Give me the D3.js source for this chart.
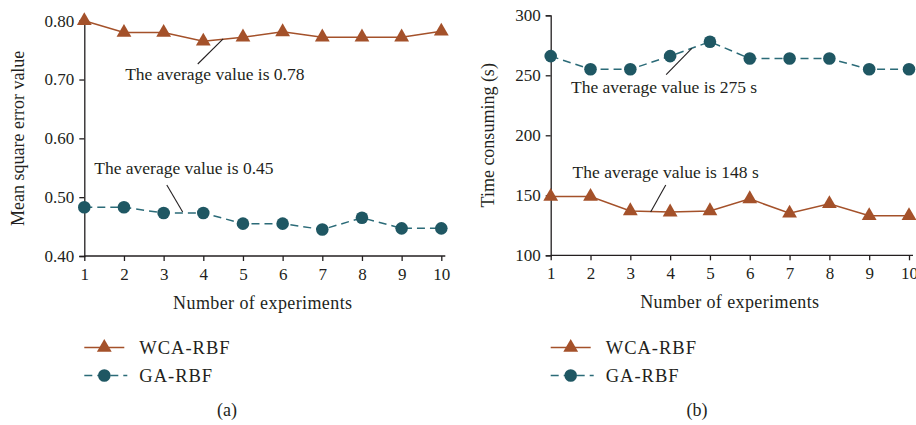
<!DOCTYPE html>
<html><head><meta charset="utf-8">
<script src="https://cdn.jsdelivr.net/npm/d3@7/dist/d3.min.js"></script>
<style>body{margin:0;background:#fff;} text{font-family:"Liberation Serif","Times New Roman",serif;fill:#231f20;}</style>
</head><body><svg id="c" width="916" height="425"></svg>
<script>
const experiments = [1,2,3,4,5,6,7,8,9,10];
const wcaMSE = [0.80,0.78,0.78,0.765,0.772,0.781,0.772,0.772,0.772,0.782];
const gaMSE  = [0.483,0.483,0.473,0.473,0.455,0.455,0.445,0.465,0.447,0.447];
const wcaTime = [149,149,137,136,137,147,135,143,133,133];
const gaTime  = [266,255,255,266,278,264,264,264,255,255];
const mseTicks = [0.40,0.50,0.60,0.70,0.80];
const timeTicks = [100,150,200,250,300];
const seriesNames = ["WCA-RBF","GA-RBF"];
const annA = [
  {text:"The average value is 0.78", tx:2.03, ty:0.699, x1:3.86, y1:0.7264, x2:4.50, y2:0.769},
  {text:"The average value is 0.45", tx:1.25, ty:0.5394, x1:3.08, y1:0.5207, x2:3.48, y2:0.4748}
];
const annB = [
  {text:"The average value is 275 s", tx:1.51, ty:235.2, x1:3.90, y1:250.5, x2:4.545, y2:272.5},
  {text:"The average value is 148 s", tx:1.55, ty:164.4, x1:3.89, y1:158.6, x2:3.51, y2:136.1}
];

const WCA_C = "#a4512a", GA_C = "#1f5763", GA_L = "#2b6b78", AX = "#231f20";
const svg = d3.select("#c");

function panel(cfg){
  const g = svg.append("g");
  const x = d3.scaleLinear().domain([1,10]).range([cfg.x0, cfg.x1]);
  const y = d3.scaleLinear().domain(cfg.ydom).range([cfg.yb, cfg.yt]);
  const xa = g.append("g").attr("transform",`translate(0,${cfg.yb})`)
    .call(d3.axisBottom(x).tickValues(experiments).tickFormat(d3.format("d")).tickSizeOuter(0).tickSize(5).tickPadding(7));
  xa.select(".domain").attr("d",`M${cfg.x0},0H${cfg.x1+4}`);
  const ya = g.append("g").attr("transform",`translate(${cfg.x0},0)`)
    .call(d3.axisLeft(y).tickValues(cfg.yticks).tickFormat(cfg.yfmt).tickSizeOuter(0).tickSize(5).tickPadding(5));
  g.selectAll(".domain, .tick line").attr("stroke",AX).attr("stroke-width",1.3);
  g.selectAll(".tick text").style("font-size","17px").attr("fill",AX);
  g.append("text").attr("x",(cfg.x0+cfg.x1)/2).attr("y",cfg.yb+53).attr("text-anchor","middle").style("font-size","18px").style("letter-spacing","0.4px").text("Number of experiments");
  g.append("text").attr("transform",`translate(${cfg.ylx},${(cfg.yb+cfg.yt)/2}) rotate(-90)`).attr("text-anchor","middle").style("font-size","18px").text(cfg.ylabel);
  const line = d3.line().x((d,i)=>x(experiments[i])).y(d=>y(d));
  g.append("path").attr("d",line(cfg.ga)).attr("fill","none").attr("stroke",GA_L).attr("stroke-width",1.5).attr("stroke-dasharray","8,5");
  g.append("path").attr("d",line(cfg.wca)).attr("fill","none").attr("stroke",WCA_C).attr("stroke-width",1.5);
  const tri = d3.symbol().type(d3.symbolTriangle).size(95);
  g.selectAll(".tri").data(cfg.wca).join("path").attr("d",tri)
    .attr("transform",(d,i)=>`translate(${x(experiments[i])},${y(d)})`).attr("fill",WCA_C);
  g.selectAll(".cir").data(cfg.ga).join("circle").attr("cx",(d,i)=>x(experiments[i])).attr("cy",d=>y(d)).attr("r",6.3).attr("fill",GA_C);
  cfg.ann.forEach(a=>{
    g.append("line").attr("x1",x(a.x1)).attr("y1",y(a.y1)).attr("x2",x(a.x2)).attr("y2",y(a.y2)).attr("stroke",AX).attr("stroke-width",1.1);
    g.append("text").attr("x",x(a.tx)).attr("y",y(a.ty)).style("font-size","17.5px").text(a.text);
  });
  const lx = cfg.x0, ly1 = 347.5, ly2 = 375.5;
  g.append("line").attr("x1",lx).attr("x2",lx+40).attr("y1",ly1).attr("y2",ly1).attr("stroke",WCA_C).attr("stroke-width",1.5);
  g.append("path").attr("d",tri).attr("transform",`translate(${lx+20},${ly1})`).attr("fill",WCA_C);
  g.append("text").attr("x",lx+55).attr("y",ly1+6).style("font-size","18.5px").style("letter-spacing","1px").text(seriesNames[0]);
  g.append("line").attr("x1",lx).attr("x2",lx+43).attr("y1",ly2).attr("y2",ly2).attr("stroke",GA_L).attr("stroke-width",1.5).attr("stroke-dasharray","8,5");
  g.append("circle").attr("cx",lx+20).attr("cy",ly2).attr("r",6.3).attr("fill",GA_C);
  g.append("text").attr("x",lx+55).attr("y",ly2+6).style("font-size","18.5px").style("letter-spacing","1px").text(seriesNames[1]);
  g.append("text").attr("x",cfg.capx).attr("y",416).attr("text-anchor","middle").style("font-size","18px").text(cfg.cap);
}

panel({x0:84.3,x1:441.3,yb:256,yt:20.7,ydom:[0.4,0.8],yticks:mseTicks,yfmt:d3.format(".2f"),
  ylabel:"Mean square error value",ylx:24,wca:wcaMSE,ga:gaMSE,ann:annA,cap:"(a)",capx:227});
panel({x0:550.7,x1:909,yb:255.3,yt:15.3,ydom:[100,300],yticks:timeTicks,yfmt:d3.format("d"),
  ylabel:"Time consuming (s)",ylx:494,wca:wcaTime,ga:gaTime,ann:annB,cap:"(b)",capx:697});
</script></body></html>
